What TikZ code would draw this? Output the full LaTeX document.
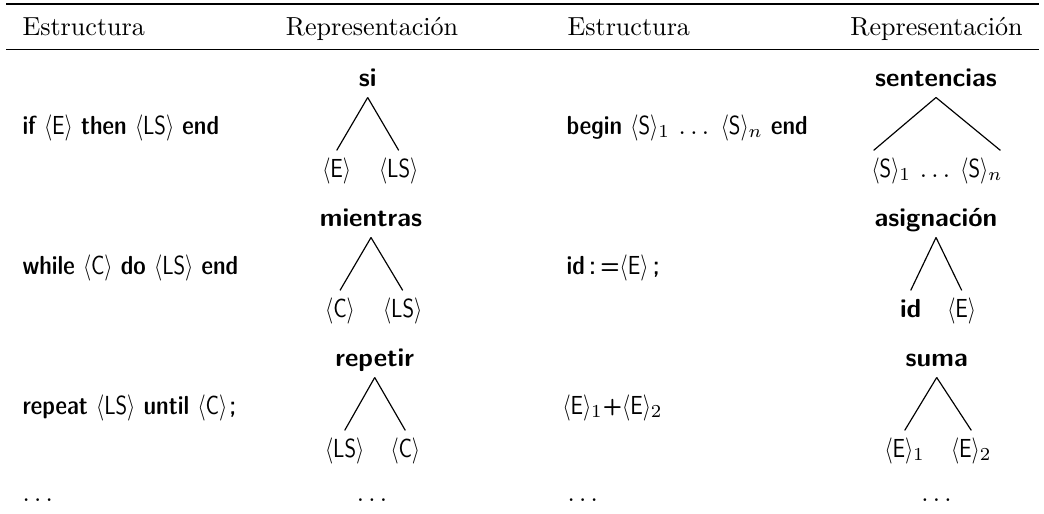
\documentclass[tikz,border=0pt]{standalone}
\usepackage{graphicx}
\newcommand{\nt}[1]{\scalebox{0.8}[1]{$\langle${\fontseries{m}\selectfont #1}$\rangle$}}
\begin{document}
\begin{tikzpicture}[x=0.3831pt,y=-0.3831pt,
  hdr/.style={font=\rmfamily, inner sep=0pt, anchor=base},
  cell/.style={font=\sffamily\fontseries{sbc}\selectfont, inner sep=0pt, anchor=base west},
  root/.style={font=\sffamily\bfseries, anchor=base, inner xsep=0pt, inner ysep=4.2pt, text depth=0pt},
  leaf/.style={font=\sffamily, anchor=base, inner xsep=0pt, inner ysep=2.5pt, text height=7.5pt, text depth=2.5pt},
  branch/.style={line width=0.45pt}]
\useasboundingbox (0,0) rectangle (1044,513);
% rules
\draw[line width=0.8pt] (6,4) -- (1039,4);
\draw[line width=0.5pt] (6,49.5) -- (1039,49.5);
% header
\node[hdr, anchor=base west] (h1) at (22,35) {Estructura};
\node[hdr] (h2) at (372,35) {Representación};
\node[hdr, anchor=base west] (h3) at (567,35) {Estructura};
\node[hdr] (h4) at (936.5,35) {Representación};
% row 1
\node[cell] (c11) at (22,134) {if \nt{E} then \nt{LS} end};
\node[root] (si) at (367.7,86) {si};
\node[leaf] (siE) at (336.7,177) {\nt{E}};
\node[leaf] (siLS) at (398.7,177) {\nt{LS}};
\draw[branch] (si.south) -- (siE.north);
\draw[branch] (si.south) -- (siLS.north);
\node[cell] (c13) at (566,134) {begin \nt{S}$_1\,\ldots\;\,$\nt{S}$_n$ end};
\node[root] (sent) at (936,86) {sentencias};
\node[leaf, anchor=base west] (s1) at (871,177) {\nt{S}$_1$};
\node[leaf] (sdots) at (935,177) {$\ldots$};
\node[leaf, anchor=base east] (sn) at (1003,177) {\nt{S}$_n$};
\draw[branch] (sent.south) -- ([xshift=1pt]s1.north west);
\draw[branch] (sent.south) -- ([xshift=-1pt]sn.north east);
% row 2
\node[cell] (c21) at (22,274) {while \nt{C} do \nt{LS} end};
\node[root] (mie) at (371,226) {mientras};
\node[leaf] (mieC) at (340,317) {\nt{C}};
\node[leaf] (mieLS) at (402.7,317) {\nt{LS}};
\draw[branch] (mie.south) -- (mieC.north);
\draw[branch] (mie.south) -- (mieLS.north);
\node[cell] (c23) at (566,274) {id\,:\,=\nt{E}\,;};
\node[root] (asig) at (936,226) {asignación};
\node[leaf, font=\sffamily\bfseries] (asid) at (910.7,317) {id};
\node[leaf] (asE) at (961.7,317) {\nt{E}};
\draw[branch] (asig.south) -- (asid.north);
\draw[branch] (asig.south) -- (asE.north);
% row 3
\node[cell] (c31) at (22,414) {repeat \nt{LS} until \nt{C}\kern0.8pt;};
\node[root] (rep) at (374.7,366) {repetir};
\node[leaf] (repLS) at (344.7,457) {\nt{LS}};
\node[leaf] (repC) at (405.3,457) {\nt{C}};
\draw[branch] (rep.south) -- (repLS.north);
\draw[branch] (rep.south) -- (repC.north);
\node[cell] (c33) at (562,414) {\nt{E}$_1$+\nt{E}$_2$};
\node[root] (suma) at (936.7,366) {suma};
\node[leaf] (sumE1) at (904.7,457) {\nt{E}$_1$};
\node[leaf] (sumE2) at (971.3,457) {\nt{E}$_2$};
\draw[branch] (suma.south) -- (sumE1.north);
\draw[branch] (suma.south) -- (sumE2.north);
% row 4
\node[cell] (d1) at (22,501) {$\ldots$};
\node[hdr] (d2) at (372,501) {$\ldots$};
\node[cell] (d3) at (567,501) {$\ldots$};
\node[hdr] (d4) at (936.5,501) {$\ldots$};
\end{tikzpicture}
\end{document}
